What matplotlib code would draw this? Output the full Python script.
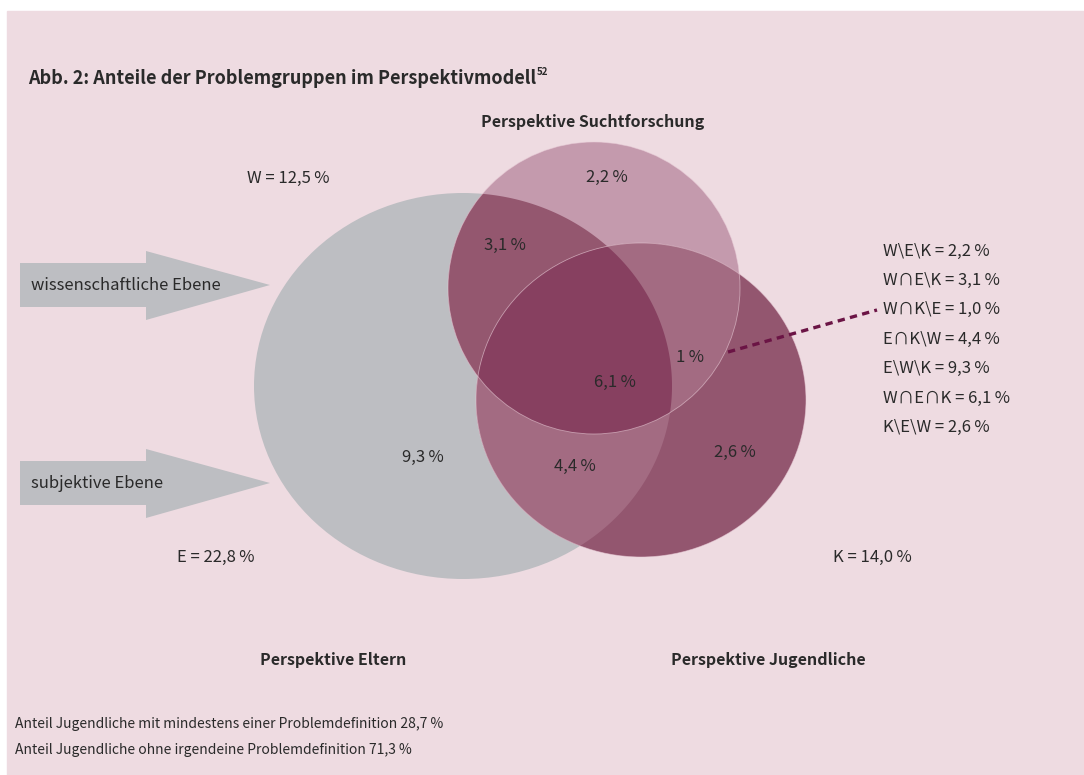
import numpy as np
import matplotlib.pyplot as plt
from matplotlib.patches import Ellipse, Polygon, Rectangle

plt.rcParams['font.family'] = ['Noto Sans CJK SC', 'DejaVu Sans']

# --- data -------------------------------------------------------------
title = 'Abb. 2: Anteile der Problemgruppen im Perspektivmodell'
title_note = '52'
persp_labels = ['Perspektive Suchtforschung', 'Perspektive Eltern', 'Perspektive Jugendliche']
set_names = ['W', 'E', 'K']
set_totals = [12.5, 22.8, 14.0]
region_keys = ['W\\E\\K', 'W\u2229E\\K', 'W\u2229K\\E', 'E\u2229K\\W', 'E\\W\\K', 'W\u2229E\u2229K', 'K\\E\\W']
region_values = [2.2, 3.1, 1.0, 4.4, 9.3, 6.1, 2.6]
level_labels = ['wissenschaftliche Ebene', 'subjektive Ebene']
share_labels = ['Anteil Jugendliche mit mindestens einer Problemdefinition',
                'Anteil Jugendliche ohne irgendeine Problemdefinition']
share_values = [28.7, 71.3]

TXT = '#2a2a2a'
BG = '#eedbe1'
GREY = '#bdbec2'


def de(v, short=False):
    s = f'{v:.1f}'.replace('.', ',')
    if short and s.endswith(',0'):
        s = s[:-2]
    return s


# --- geometry of the three sets (pixel space) --------------------------
shapes = {'E': (463, 386, 209, 193), 'W': (594, 288, 146, 146), 'K': (641, 400, 165, 157)}


def outline(name, n=720):
    cx, cy, rx, ry = shapes[name]
    t = np.linspace(0, 2 * np.pi, n, endpoint=False)
    return np.column_stack([cx + rx * np.cos(t), cy + ry * np.sin(t)])


def inside(pts, name):
    cx, cy, rx, ry = shapes[name]
    return ((pts[:, 0] - cx) / rx) ** 2 + ((pts[:, 1] - cy) / ry) ** 2 <= 1.0 + 1e-9


def intersection(names):
    pts = np.vstack([outline(n) for n in names])
    keep = np.ones(len(pts), bool)
    for n in names:
        keep &= inside(pts, n)
    pts = pts[keep]
    c = pts.mean(axis=0)
    order = np.argsort(np.arctan2(pts[:, 1] - c[1], pts[:, 0] - c[0]))
    return pts[order]


fig = plt.figure(figsize=(10.84, 7.75), dpi=100)
ax = fig.add_axes([0, 0, 1, 1])
ax.set_xlim(0, 1084)
ax.set_ylim(775, 0)
ax.axis('off')

ax.add_patch(Rectangle((7, 11), 1084, 775, color=BG, zorder=0))

# base sets
for name, col in [('E', GREY), ('W', '#c49aad'), ('K', '#93566f')]:
    cx, cy, rx, ry = shapes[name]
    ax.add_patch(Ellipse((cx, cy), 2 * rx, 2 * ry, color=col, lw=0, zorder=1))

# overlaps
for names, col in [(('W', 'E'), '#94576f'), (('W', 'K'), '#a36b82'),
                   (('E', 'K'), '#a36b82'), (('W', 'E', 'K'), '#874060')]:
    ax.add_patch(Polygon(intersection(names), closed=True, color=col, lw=0, zorder=2))

# faint rims
for name in ['W', 'K']:
    cx, cy, rx, ry = shapes[name]
    ax.add_patch(Ellipse((cx, cy), 2 * rx, 2 * ry, fill=False, ec='#e9cdd8',
                         lw=0.6, alpha=0.6, zorder=3))

# arrows
for y0 in [285, 483]:
    arrow = [(20, y0 - 22), (146, y0 - 22), (146, y0 - 34), (270, y0),
             (146, y0 + 35), (146, y0 + 22), (20, y0 + 22)]
    ax.add_patch(Polygon(arrow, closed=True, color=GREY, lw=0, zorder=1))

fs = 12
for lab, y0 in zip(level_labels, [285, 483]):
    ax.text(31, y0, lab, fontsize=fs, color=TXT, va='center', ha='left', zorder=5)

# title
t = ax.text(28, 78, title, fontsize=13, fontweight='bold', color=TXT, va='center', ha='left')
fig.canvas.draw()
bb = t.get_window_extent().transformed(ax.transData.inverted())
ax.text(bb.x1 + 1, 72, title_note, fontsize=7, fontweight='bold', color=TXT,
        va='center', ha='left')

# perspective headings
for lab, (x, y) in zip(persp_labels, [(593, 122), (333, 660), (768, 660)]):
    ax.text(x, y, lab, fontsize=11.5, fontweight='bold', color=TXT, ha='center', va='center')

# set totals
for name, val, (x, y) in zip(set_names, set_totals, [(247, 178), (177, 557), (833, 557)]):
    ax.text(x, y, f'{name} = {de(val)}\u2009%', fontsize=fs, color=TXT, ha='left', va='center')

# region labels inside the diagram
region_pos = [(607, 177), (505, 245), (690, 358), (575, 466), (423, 457), (615, 382), (735, 452)]
for val, (x, y) in zip(region_values, region_pos):
    ax.text(x, y, f'{de(val, short=True)}\u2009%', fontsize=fs, color=TXT,
            ha='center', va='center', zorder=5)

# leader line
ax.plot([728, 877], [352, 310], color='#6b1445', lw=2.4, ls=(0, (2.2, 1.6)),
        solid_capstyle='butt', zorder=4)

# legend of the regions
for i, (k, v) in enumerate(zip(region_keys, region_values)):
    ax.text(883, 251 + i * 29.4, f'{k} = {de(v)}\u2009%', fontsize=fs, color=TXT,
            ha='left', va='center')

# bottom notes
for i, (lab, v) in enumerate(zip(share_labels, share_values)):
    ax.text(15, 724 + i * 26, f'{lab} {de(v)} %', fontsize=10, color=TXT,
            ha='left', va='center')

fig.savefig('out.png', dpi=100, facecolor='white')
